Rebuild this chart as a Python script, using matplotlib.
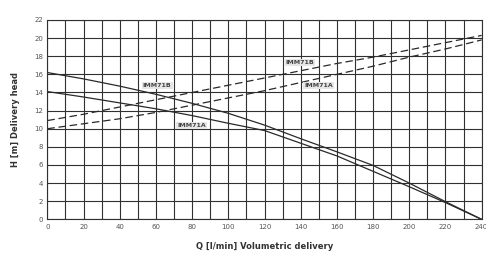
import matplotlib
matplotlib.use("Agg")
import matplotlib.pyplot as plt
import numpy as np

q = [0, 20, 40, 60, 80, 100, 120, 140, 160, 180, 200, 220, 240]
h_imm71b = [16.2, 15.5, 14.7, 13.8, 12.8, 11.7, 10.4, 8.9, 7.45, 5.95, 4.0, 1.95, 0.0]
h_imm71a = [14.1, 13.5, 12.85, 12.2, 11.45, 10.6, 9.8, 8.4, 7.0, 5.3, 3.6, 1.85, 0.0]
p_imm71b = [10.9, 11.6, 12.4, 13.2, 14.0, 14.8, 15.6, 16.4, 17.2, 17.9, 18.7, 19.5, 20.3]
p_imm71a = [10.0, 10.55, 11.1, 11.8, 12.6, 13.4, 14.2, 15.1, 16.0, 16.9, 17.9, 18.8, 19.8]

xticks = list(range(0, 241, 20))
yticks = list(range(0, 23, 2))

fig = plt.figure(figsize=(4.86, 2.63), dpi=100)
ax = fig.add_axes([0.0975, 0.166, 0.8935, 0.758])

lc = "#2a2a2a"
ax.plot(q, h_imm71b, color=lc, lw=0.9)
ax.plot(q, h_imm71a, color=lc, lw=0.9)
ax.plot(q, p_imm71b, color=lc, lw=0.9, ls=(0, (6, 3)))
ax.plot(q, p_imm71a, color=lc, lw=0.9, ls=(0, (6, 3)))

ax.set_xlim(0, 240)
ax.set_ylim(0, 22)
ax.set_xticks(xticks)
ax.set_yticks(yticks)
ax.set_xticks(list(range(10, 240, 20)), minor=True)
ax.grid(True, which="both", color="#303030", lw=0.8)
ax.set_axisbelow(True)
ax.tick_params(axis="both", which="both", length=0, labelsize=5, labelcolor="#555555", pad=3)
for s in ax.spines.values():
    s.set_color("#303030")
    s.set_linewidth(0.8)

ax.set_xlabel("Q [l/min] Volumetric delivery", fontsize=6, fontweight="bold", color="#333333", labelpad=9)
ax.set_ylabel("H [m] Delivery head", fontsize=6, fontweight="bold", color="#333333", labelpad=10)

lab = dict(fontsize=4.5, fontweight="bold", color="#444444", ha="center", va="center",
           bbox=dict(boxstyle="square,pad=0.15", fc="#e6e6e6", ec="none"))
ax.text(60.7, 14.8, "IMM71B", **lab)
ax.text(79.8, 10.4, "IMM71A", **lab)
ax.text(139.7, 17.3, "IMM71B", **lab)
ax.text(150.0, 14.75, "IMM71A", **lab)

fig.savefig("out.png", dpi=100)
